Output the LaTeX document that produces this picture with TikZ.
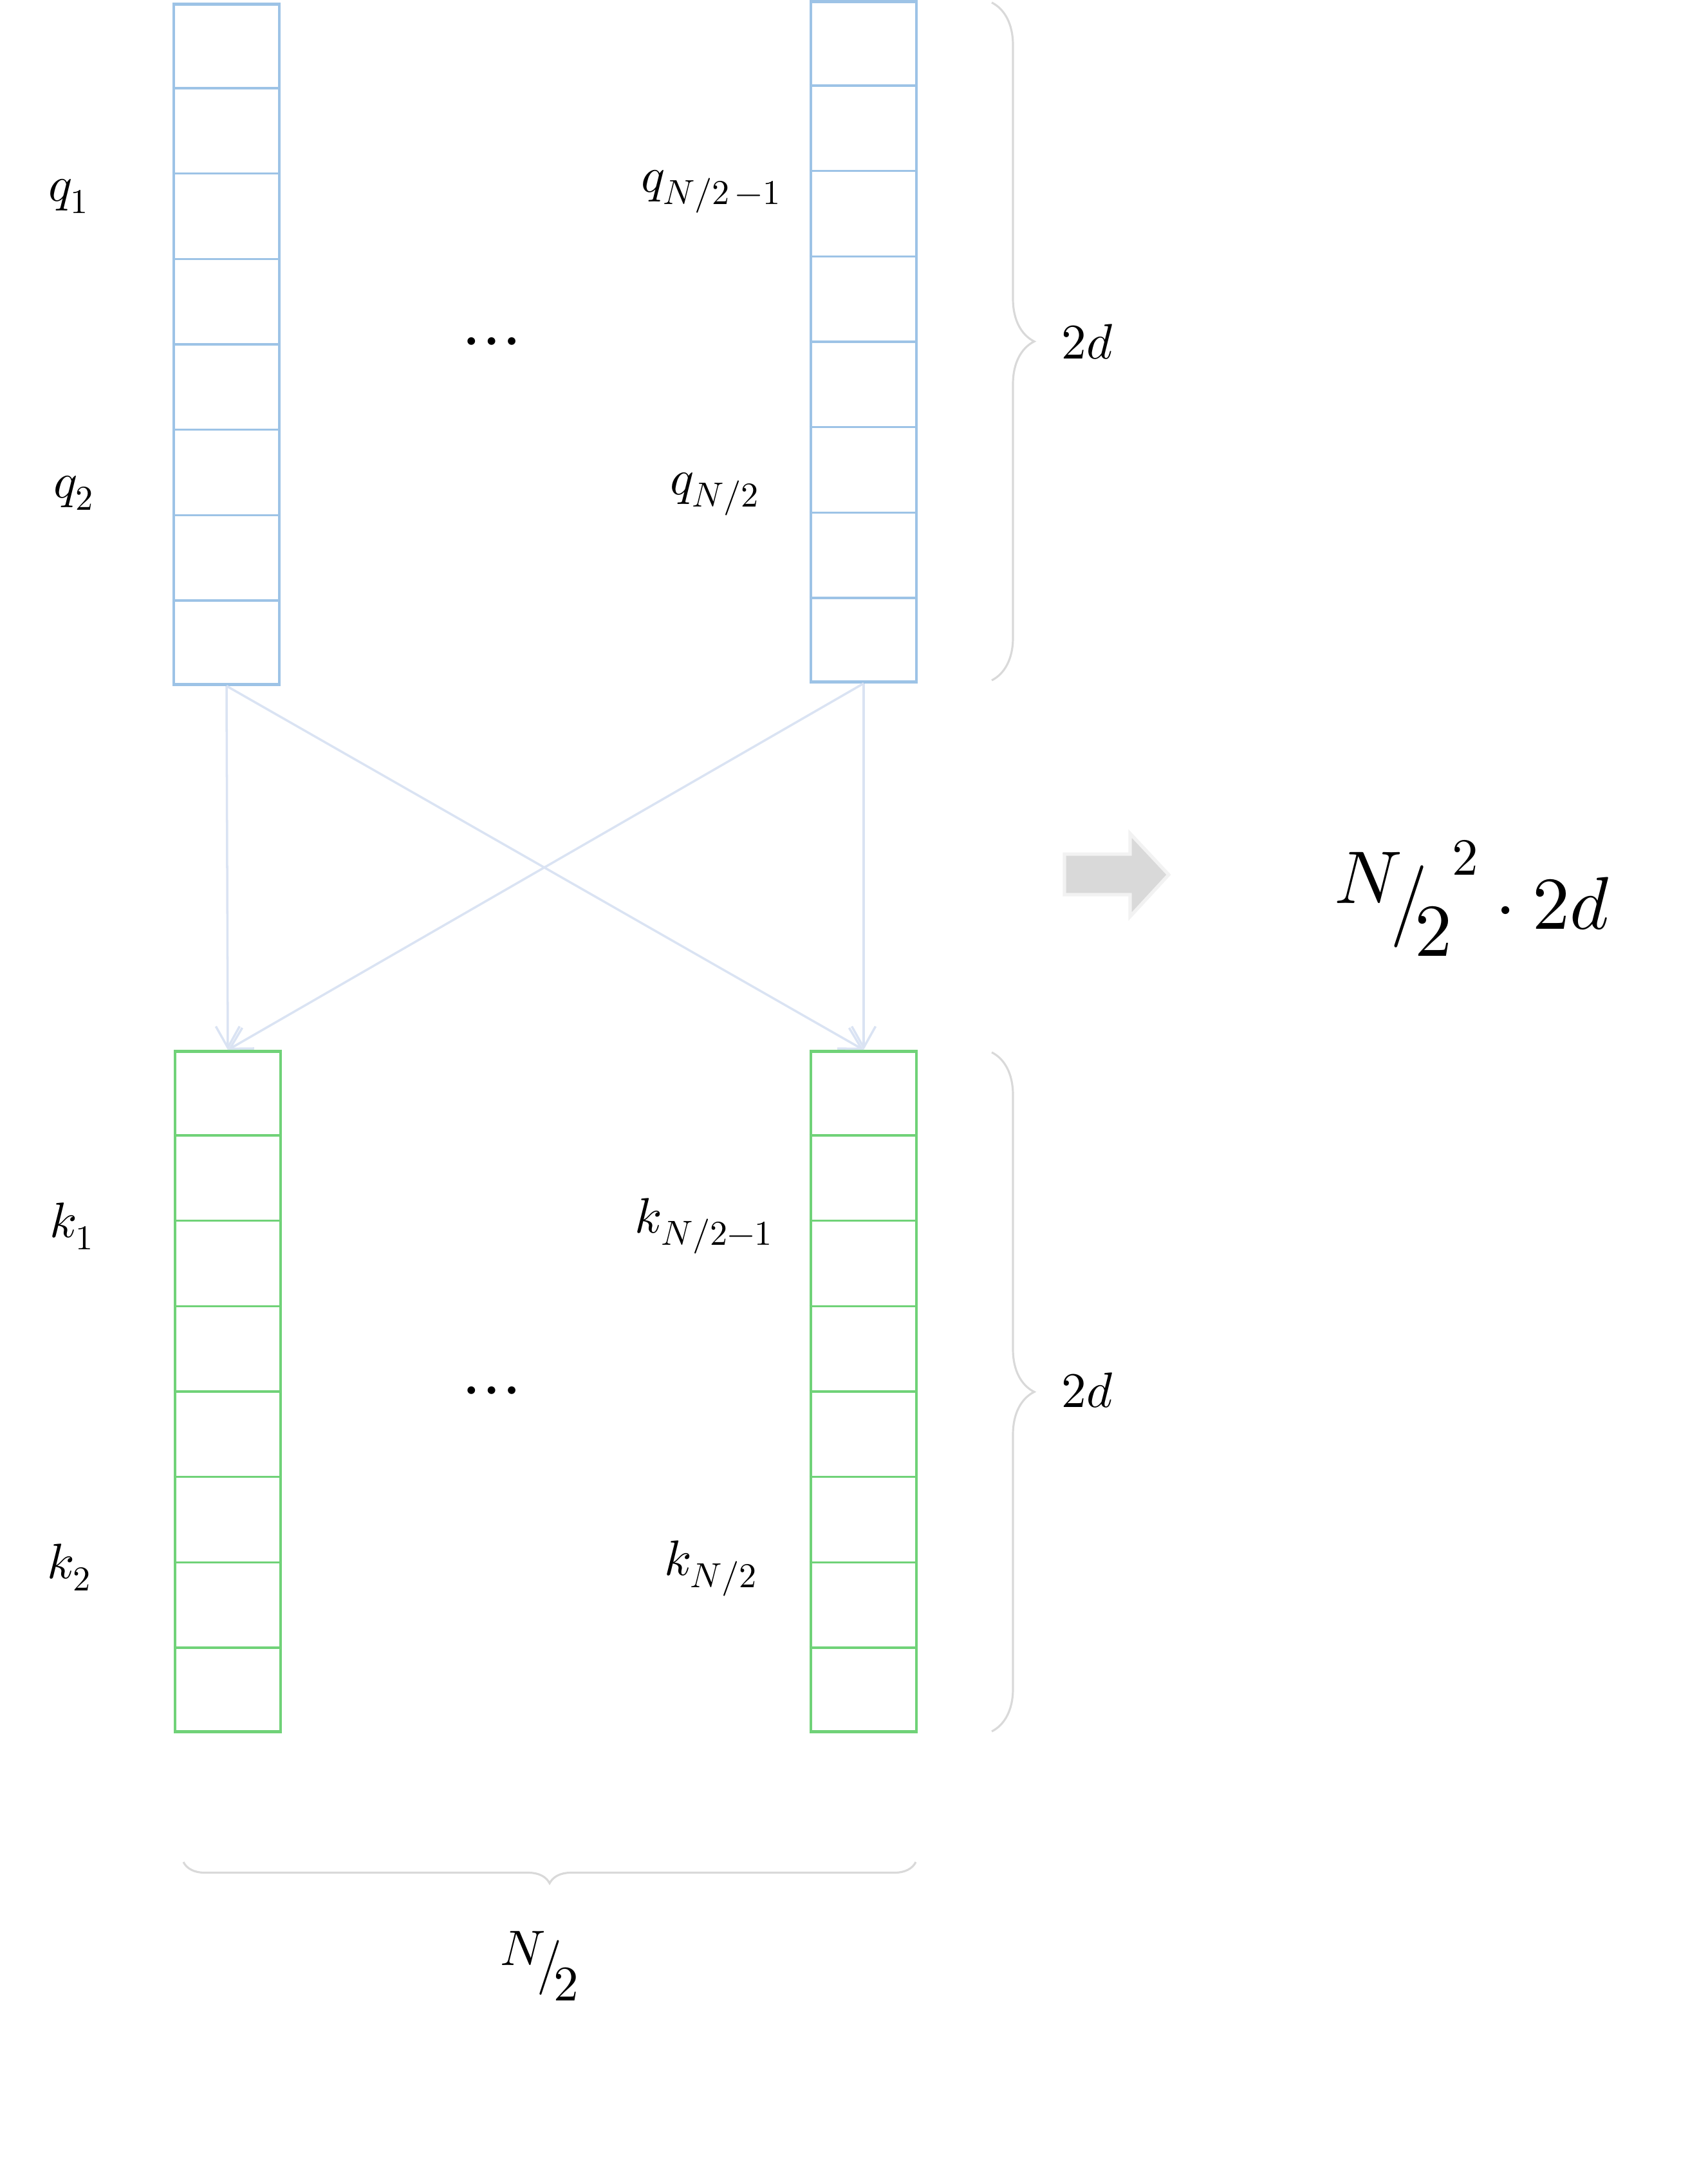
\documentclass[tikz,border=0pt]{standalone}
\usepackage{unicode-math}
\usetikzlibrary{arrows.meta, decorations.pathreplacing, calc}

\definecolor{qblue}{RGB}{157,195,230}
\definecolor{kgreen}{RGB}{112,210,120}
\definecolor{linkblue}{RGB}{218,227,243}
\definecolor{bracegray}{RGB}{217,217,217}
\definecolor{arrowfill}{RGB}{217,217,217}
\definecolor{arrowedge}{RGB}{242,242,242}

\newcommand{\halfN}{\raisebox{0.34em}{$N$}\mkern-3mu\raisebox{0.02em}{\scalebox{1}[1.1]{$/$}}\mkern-3mu\raisebox{-0.37em}{$2$}}

\begin{document}
\begin{tikzpicture}[
    qcol/.style={draw=qblue, line width=1.3pt, minimum width=1.64cm, minimum height=10.57cm, inner sep=0pt},
    kcol/.style={qcol, draw=kgreen},
    qline/.style={draw=qblue, line width=1pt},
    kline/.style={draw=kgreen, line width=1pt},
    link/.style={draw=linkblue, line width=1pt, -{Straight Barb[length=0.33cm, width=0.37cm]}},
    lab/.style={inner sep=0pt, font=\fontsize{22}{26}\selectfont},
    dots/.style={inner sep=0pt, anchor=base, font=\fontsize{32}{38}\selectfont},
    big/.style={inner sep=0pt, font=\fontsize{33}{40}\selectfont},
    bracket/.style={draw=bracegray, line width=0.9pt, decorate, decoration={brace, amplitude=#1}},
    bigarrow/.style={fill=arrowfill, draw=arrowedge, line width=1.5pt}
]
\useasboundingbox (0,0) rectangle (26.53,-33.87);

\node[qcol] (qa) at (3.52,-5.35)   {};
\node[qcol] (qb) at (13.42,-5.31)  {};
\node[kcol] (ka) at (3.54,-21.62)  {};
\node[kcol] (kb) at (13.42,-21.62) {};

\foreach \c in {qa,qb}
  \foreach \i in {1,...,7}
    \draw[qline] ($(\c.north west)!\i/8!(\c.south west)$) -- ($(\c.north east)!\i/8!(\c.south east)$);
\foreach \c in {ka,kb}
  \foreach \i in {1,...,7}
    \draw[kline] ($(\c.north west)!\i/8!(\c.south west)$) -- ($(\c.north east)!\i/8!(\c.south east)$);

\draw[link] (qa.south) -- (ka.north);
\draw[link] (qa.south) -- (kb.north);
\draw[link] (qb.south) -- (ka.north);
\draw[link] (qb.south) -- (kb.north);

\node[lab] (lq1)  at (1.07,-3.05)   {$q_1$};
\node[lab] (lq2)  at (1.15,-7.66)   {$q_2$};
\node[lab] (lqn1) at (11.05,-2.98)  {$q_{N/2\,-1}$};
\node[lab] (lqn)  at (11.11,-7.68)  {$q_{N/2}$};
\node[lab] (lk1)  at (1.12,-19.05)  {$k_1$};
\node[lab] (lk2)  at (1.08,-24.35)  {$k_2$};
\node[lab] (lkn1) at (10.94,-19.05) {$k_{N/2-1}$};
\node[lab] (lkn)  at (11.05,-24.37) {$k_{N/2}$};

\node[dots] (dq) at (7.64,-5.59)  {$\cdots$};
\node[dots] (dk) at (7.64,-21.88) {$\cdots$};

\draw[bracket=0.66cm] (15.41,-0.04) -- (15.41,-10.57);
\draw[bracket=0.66cm] (15.41,-16.35) -- (15.41,-26.90);
\draw[bracket=0.33cm] (14.23,-28.93) -- (2.85,-28.93);

\node[lab] (dq2d) at (16.90,-5.31)  {$2d$};
\node[lab] (dk2d) at (16.90,-21.60) {$2d$};
\node[lab, anchor=base] (half) at (8.38,-30.80) {$\halfN$};

\draw[bigarrow] (16.54,-13.27) -- (17.56,-13.27) -- (17.56,-12.95) -- (18.16,-13.59)
    -- (17.56,-14.24) -- (17.56,-13.90) -- (16.54,-13.90) -- cycle;

\node[big, anchor=base] (cost) at (22.88,-14.43)
    {$\halfN\raisebox{0.72em}{$\scriptstyle 2$}\cdot 2d$};

\end{tikzpicture}
\end{document}
